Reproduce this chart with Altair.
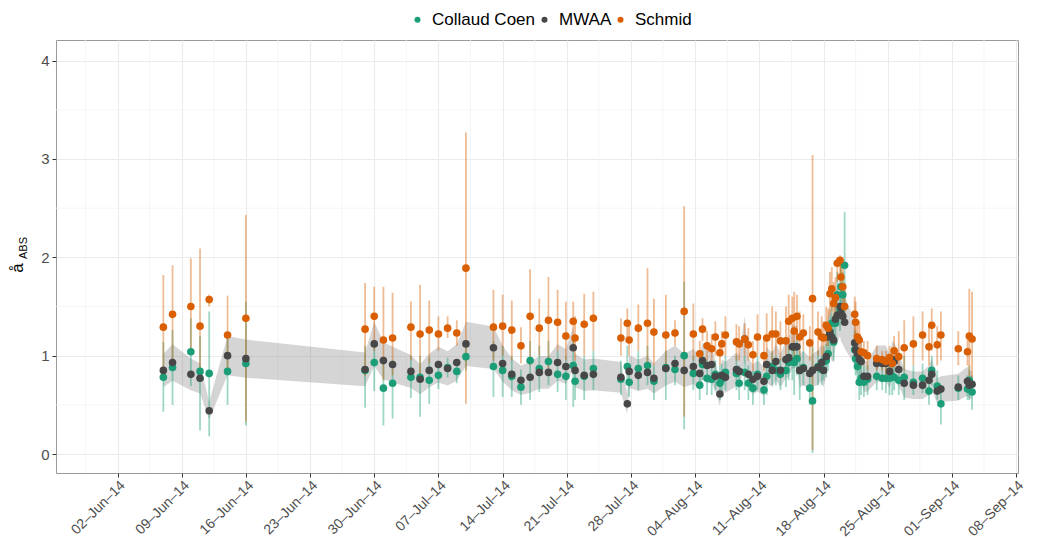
import altair as alt
import pandas as pd

# ---------------- data ----------------
START = "2014-06-02"  # day offsets below are days since this date

day = [5.0, 6.0, 8.0, 9.0, 10.0, 12.0, 14.0,
       27.0, 28.0, 29.0, 30.0, 32.0, 33.0, 34.0, 35.0, 36.0, 37.0, 38.0,
       41.0, 42.0, 43.0, 44.0, 45.0, 46.0, 47.0, 48.0, 48.9, 49.7, 49.9, 50.9, 51.9,
       54.9, 55.6, 55.8, 56.8, 57.8, 58.5, 59.8, 60.8, 61.8, 62.8, 63.5, 63.8, 64.3,
       64.8, 65.2, 65.7, 65.9, 66.3, 67.5, 67.8, 68.4, 68.8, 69.3, 69.8, 70.5, 70.8,
       71.4, 71.8, 72.3, 72.9, 73.2, 73.6, 73.8, 74.1, 74.4, 74.8, 75.5, 75.8, 76.4,
       76.8, 77.0, 77.3, 77.5, 77.7, 77.9, 78.1, 78.3, 78.5, 78.8, 78.9, 79.1, 79.3,
       80.4, 80.5, 80.7, 80.9, 81.1, 81.4, 81.8, 82.8, 83.4, 83.8, 84.2, 84.5, 84.7,
       85.2, 85.8, 86.8, 87.8, 88.5, 88.8, 89.4, 89.8, 91.7, 92.7, 92.9, 93.2]

collaud_coen = [0.78, 0.88, 1.04, 0.84, 0.82, 0.84, 0.92,
                0.85, 0.93, 0.67, 0.72, 0.78, 0.78, 0.75, 0.80, 0.88, 0.84, 0.99,
                0.89, 0.85, 0.79, 0.68, 0.95, 0.87, 0.94, 0.81, 0.79, 0.90, 0.74, 0.79, 0.87,
                0.76, 0.89, 0.73, 0.87, 0.90, 0.74, 0.88, 0.86, 1.00, 0.82, 0.70, 0.91, 0.77,
                0.76, 0.81, 0.72, 0.76, 0.83, 0.82, 0.72, 0.83, 0.72, 0.67, 0.81, 0.65, 0.79,
                0.89, 0.85, 0.81, 0.85, 0.93, 0.94, 0.93, 0.97, 0.85, 0.88, 0.67, 0.54, 0.89,
                0.86, 0.94, 0.95, 1.02, 1.23, 1.33, 1.14, 1.33, 1.62, 1.45, 1.70, 1.62, 1.92,
                1.06, 0.97, 0.89, 0.73, 0.77, 0.73, 0.76, 0.79, 0.77, 0.77, 0.77, 0.79, 0.78,
                0.75, 0.78, 0.73, 0.77, 0.64, 0.85, 0.69, 0.51, 0.67, 0.66, 0.75, 0.63]

collaud_coen_lo = [0.43, 0.50, 0.69, 0.24, 0.18, 0.50, 0.29,
                   0.47, 0.64, 0.29, 0.36, 0.57, 0.38, 0.51, 0.66, 0.78, 0.72, 0.85,
                   0.58, 0.58, 0.58, 0.50, 0.55, 0.63, 0.70, 0.63, 0.55, 0.48, 0.55, 0.55, 0.65,
                   0.60, 0.70, 0.58, 0.65, 0.70, 0.55, 0.55, 0.70, 0.25, 0.65, 0.55, 0.75, 0.60,
                   0.60, 0.65, 0.55, 0.60, 0.65, 0.65, 0.55, 0.65, 0.55, 0.50, 0.65, 0.50, 0.60,
                   0.70, 0.70, 0.65, 0.68, 0.75, 0.75, 0.60, 0.80, 0.55, 0.70, 0.50, 0.01, 0.70,
                   0.70, 0.75, 0.78, 0.85, 1.00, 1.10, 0.95, 1.10, 1.40, 1.25, 1.45, 1.40, 1.40,
                   0.90, 0.80, 0.70, 0.55, 0.60, 0.58, 0.60, 0.65, 0.65, 0.62, 0.60, 0.60, 0.65,
                   0.60, 0.55, 0.60, 0.62, 0.50, 0.70, 0.55, 0.30, 0.55, 0.55, 0.55, 0.45]

collaud_coen_hi = [1.14, 1.26, 1.38, 1.20, 1.45, 1.20, 1.55,
                   1.10, 1.15, 0.95, 0.95, 1.00, 1.00, 0.98, 0.95, 0.98, 0.95, 1.12,
                   1.15, 1.10, 1.00, 0.86, 1.15, 1.10, 1.15, 1.05, 1.00, 1.20, 0.95, 1.00, 1.05,
                   0.95, 1.10, 0.90, 1.05, 1.10, 0.90, 1.05, 1.00, 1.75, 1.00, 0.85, 1.05, 0.95,
                   0.92, 0.95, 0.90, 0.92, 1.00, 1.00, 0.90, 1.00, 0.90, 0.85, 1.00, 0.80, 0.95,
                   1.05, 1.00, 0.97, 1.00, 1.10, 1.10, 1.15, 1.15, 1.05, 1.05, 0.85, 1.10, 1.05,
                   1.00, 1.10, 1.12, 1.20, 1.40, 1.55, 1.35, 1.55, 1.85, 1.65, 1.95, 1.85, 2.46,
                   1.25, 1.15, 1.05, 0.90, 0.92, 0.90, 0.90, 0.95, 0.90, 0.90, 0.92, 0.95, 0.92,
                   0.90, 1.00, 0.90, 0.92, 0.80, 1.00, 0.85, 0.70, 0.80, 0.80, 0.90, 0.80]

mwaa = [0.85, 0.93, 0.81, 0.77, 0.44, 1.00, 0.97,
        0.86, 1.12, 0.95, 0.91, 0.84, 0.76, 0.85, 0.91, 0.87, 0.93, 1.12,
        1.08, 0.92, 0.81, 0.75, 0.78, 0.83, 0.83, 0.93, 0.89, 1.08, 0.85, 0.80, 0.81,
        0.78, 0.51, 0.84, 0.80, 0.83, 0.77, 0.87, 0.92, 0.85, 0.89, 0.82, 0.95, 0.90,
        0.91, 0.79, 0.61, 0.80, 0.78, 0.86, 0.84, 1.17, 0.81, 0.76, 0.79, 0.74, 0.91,
        0.85, 0.94, 0.85, 0.96, 0.98, 1.09, 1.09, 1.09, 0.85, 0.87, 0.82, 0.85, 0.88,
        0.93, 0.85, 0.99, 1.19, 1.24, 1.19, 1.16, 1.37, 1.41, 1.50, 1.43, 1.40, 1.34,
        1.13, 1.06, 1.02, 0.96, 0.94, 0.79, 0.79, 0.92, 0.92, 0.92, 0.84, 0.96, 0.94,
        0.86, 0.72, 0.70, 0.70, 0.75, 0.81, 0.64, 0.66, 0.68, 0.74, 0.70, 0.71]

schmid = [1.29, 1.42, 1.50, 1.30, 1.57, 1.21, 1.38,
          1.27, 1.40, 1.16, 1.18, 1.29, 1.22, 1.26, 1.22, 1.28, 1.23, 1.89,
          1.29, 1.30, 1.26, 1.10, 1.40, 1.28, 1.36, 1.34, 1.20, 1.35, 1.18, 1.32, 1.38,
          1.18, 1.33, 1.16, 1.28, 1.33, 1.24, 1.21, 1.23, 1.45, 1.22, 1.02, 1.27, 1.10,
          1.07, 1.19, 1.03, 1.12, 1.21, 1.14, 1.12, 1.17, 1.11, 1.01, 1.19, 1.00, 1.18,
          1.22, 1.22, 1.15, 1.15, 1.35, 1.38, 1.25, 1.40, 1.19, 1.23, 1.13, 1.58, 1.24,
          1.19, 1.18, 1.31, 1.28, 1.63, 1.68, 1.53, 1.59, 1.94, 1.97, 1.80, 1.70, 1.50,
          1.42, 1.34, 1.19, 1.16, 1.04, 1.03, 1.00, 0.97, 0.96, 0.94, 0.98, 0.92, 1.05,
          0.99, 1.08, 1.12, 1.21, 1.09, 1.31, 1.11, 1.21, 1.07, 1.04, 1.20, 1.17]

schmid_lo = [0.85, 0.95, 1.05, 0.80, 1.50, 0.85, 0.33,
             0.79, 1.05, 0.75, 0.80, 0.95, 0.80, 0.92, 1.05, 1.18, 1.10, 0.51,
             0.95, 1.00, 0.95, 0.92, 0.90, 1.00, 0.85, 1.05, 0.95, 1.05, 0.95, 1.00, 1.05,
             1.00, 1.15, 1.00, 1.05, 0.85, 0.90, 0.85, 1.10, 0.38, 0.95, 0.90, 1.15, 0.95,
             0.90, 1.00, 0.90, 1.00, 1.00, 0.95, 0.95, 1.00, 0.95, 0.85, 1.00, 0.85, 0.95,
             0.95, 1.00, 0.95, 0.90, 1.05, 1.10, 0.95, 1.15, 0.95, 1.05, 0.95, 0.04, 1.00,
             1.00, 1.00, 1.10, 1.10, 1.40, 1.45, 1.30, 1.35, 1.75, 1.80, 1.60, 1.50, 1.30,
             1.20, 1.15, 1.00, 0.95, 0.90, 0.90, 0.85, 0.85, 0.85, 0.80, 0.85, 0.80, 0.90,
             0.85, 0.85, 0.90, 0.95, 0.90, 1.05, 0.90, 0.95, 0.90, 0.90, 0.65, 0.70]

schmid_hi = [1.82, 1.92, 1.99, 2.09, 1.62, 1.61, 2.43,
             1.74, 1.70, 1.70, 1.64, 1.55, 1.72, 1.56, 1.40, 1.40, 1.36, 3.27,
             1.67, 1.62, 1.56, 1.29, 1.88, 1.58, 1.80, 1.67, 1.55, 1.55, 1.40, 1.63, 1.65,
             1.38, 1.48, 1.30, 1.52, 1.89, 1.58, 1.62, 1.36, 2.52, 1.53, 1.15, 1.38, 1.25,
             1.22, 1.35, 1.15, 1.25, 1.40, 1.32, 1.30, 1.33, 1.28, 1.15, 1.42, 1.15, 1.43,
             1.50, 1.45, 1.35, 1.50, 1.62, 1.60, 1.65, 1.62, 1.45, 1.42, 1.30, 3.04, 1.45,
             1.40, 1.35, 1.50, 1.48, 1.85, 1.90, 1.75, 1.80, 2.00, 2.02, 1.98, 1.90, 1.70,
             1.60, 1.55, 1.35, 1.35, 1.20, 1.15, 1.15, 1.10, 1.05, 1.05, 1.10, 1.05, 1.20,
             1.25, 1.36, 1.40, 1.45, 1.30, 1.48, 1.30, 1.45, 1.25, 1.20, 1.68, 1.65]

# relative uncertainty band drawn around the MWAA series
MWAA_REL_UNCERTAINTY = 0.2

series_names = ["Collaud Coen", "MWAA", "Schmid"]
series_colors = ["#1b9e77", "#474747", "#d95f02"]

week_ticks = ["2014-06-02", "2014-06-09", "2014-06-16", "2014-06-23", "2014-06-30",
              "2014-07-07", "2014-07-14", "2014-07-21", "2014-07-28", "2014-08-04",
              "2014-08-11", "2014-08-18", "2014-08-25", "2014-09-01", "2014-09-08"]
y_ticks = [0, 1, 2, 3, 4]
y_minor = [0.5, 1.5, 2.5, 3.5]

# ---------------- tables ----------------
t0 = pd.Timestamp(START)
times = [(t0 + pd.Timedelta(days=d)).strftime("%Y-%m-%dT%H:%M:%S") for d in day]

ribbon_df = pd.DataFrame({"time": times, "mwaa": mwaa})

points_df = pd.concat([
    pd.DataFrame({"time": times, "value": collaud_coen, "series": "Collaud Coen"}),
    pd.DataFrame({"time": times, "value": mwaa, "series": "MWAA"}),
    pd.DataFrame({"time": times, "value": schmid, "series": "Schmid"}),
], ignore_index=True)

cc_bars_df = pd.DataFrame({"time": times, "lo": collaud_coen_lo, "hi": collaud_coen_hi})
sc_bars_df = pd.DataFrame({"time": times, "lo": schmid_lo, "hi": schmid_hi})

tick_dt = [pd.Timestamp(s) for s in week_ticks]
minor_x = [(a + (b - a) / 2).strftime("%Y-%m-%dT%H:%M:%S")
           for a, b in zip([tick_dt[0] - pd.Timedelta(days=7)] + tick_dt[:-1], tick_dt)]
minor_x_df = pd.DataFrame({"time": minor_x})
minor_y_df = pd.DataFrame({"value": y_minor})


def dt(s):
    ts = pd.Timestamp(s)
    return alt.DateTime(year=ts.year, month=ts.month, date=ts.day,
                        hours=ts.hour, minutes=ts.minute)


x_scale = alt.Scale(domain=[dt("2014-05-26 07:00"), dt("2014-09-08 05:00")])
y_scale = alt.Scale(domain=[-0.193, 4.21], nice=False, zero=False)
color_scale = alt.Scale(domain=series_names, range=series_colors)

FONT = "Liberation Sans"

x_axis = alt.Axis(values=[dt(s) for s in week_ticks], format="%d\u2013%b\u2013%y", formatType="time",
                  labelAngle=-45, labelAlign="right", labelBaseline="top",
                  labelFontSize=14, labelColor="#4d4d4d", labelFont=FONT,
                  labelOverlap=False, labelBound=False, labelFlush=False,
                  tickSize=4, tickColor="#333333", labelPadding=1,
                  grid=True, gridColor="#ebebeb", gridWidth=1.1, domain=False, title=None)
y_axis = alt.Axis(values=y_ticks, format="d", labelFontSize=15, labelColor="#4d4d4d", labelFont=FONT,
                  tickSize=4, tickColor="#333333", labelPadding=3,
                  grid=True, gridColor="#ebebeb", gridWidth=1.1, domain=False, title=None)

minor_x_layer = alt.Chart(minor_x_df).mark_rule(color="#f2f2f2", strokeWidth=0.8).encode(
    x=alt.X("time:T", scale=x_scale, axis=x_axis)
)
minor_y_layer = alt.Chart(minor_y_df).mark_rule(color="#f2f2f2", strokeWidth=0.8).encode(
    y=alt.Y("value:Q", scale=y_scale, axis=y_axis)
)

ribbon = alt.Chart(ribbon_df).transform_calculate(
    lo=f"datum.mwaa * (1 - {MWAA_REL_UNCERTAINTY})",
    hi=f"datum.mwaa * (1 + {MWAA_REL_UNCERTAINTY})",
).mark_area(color="#7f7f7f", opacity=0.33).encode(
    x=alt.X("time:T", scale=x_scale),
    y=alt.Y("lo:Q", scale=y_scale),
    y2="hi:Q",
)

cc_bars = alt.Chart(cc_bars_df).mark_rule(strokeWidth=1.8, opacity=0.42, color=series_colors[0]).encode(
    x=alt.X("time:T", scale=x_scale),
    y=alt.Y("lo:Q", scale=y_scale),
    y2="hi:Q",
)
sc_bars = alt.Chart(sc_bars_df).mark_rule(strokeWidth=1.8, opacity=0.42, color=series_colors[2]).encode(
    x=alt.X("time:T", scale=x_scale),
    y=alt.Y("lo:Q", scale=y_scale),
    y2="hi:Q",
)

pts = alt.Chart(points_df).mark_circle(size=58, opacity=1).encode(
    x=alt.X("time:T", scale=x_scale),
    y=alt.Y("value:Q", scale=y_scale),
    color=alt.Color("series:N", scale=color_scale,
                    legend=alt.Legend(title=None, orient="none", direction="horizontal",
                                      legendX=353, legendY=-29,
                                      labelFontSize=17, labelFont=FONT, labelColor="#000000",
                                      symbolType="circle", symbolSize=36,
                                      symbolStrokeWidth=0, labelOffset=6, columnPadding=0)),
)

title_df = pd.DataFrame({"main": ["å"], "sub": ["ABS"]})
title_main = alt.Chart(title_df).mark_text(
    angle=270, fontSize=17, font=FONT, color="#000000", align="center", baseline="middle"
).encode(text="main:N", x=alt.value(-38), y=alt.value(228))
title_sub = alt.Chart(title_df).mark_text(
    angle=270, fontSize=11, font=FONT, color="#000000", align="center", baseline="middle"
).encode(text="sub:N", x=alt.value(-32), y=alt.value(208))

chart = alt.layer(
    minor_x_layer, minor_y_layer, ribbon, cc_bars, sc_bars, pts, title_main, title_sub
).properties(
    width=962, height=433,
    autosize=alt.AutoSizeParams(type="none"),
    padding={"left": 48, "top": 32, "right": 14, "bottom": 66},
    background="white",
).configure_view(stroke="#9a9a9a", strokeWidth=1)

chart.save("out.html", embed_options={"renderer": "svg", "actions": False})
